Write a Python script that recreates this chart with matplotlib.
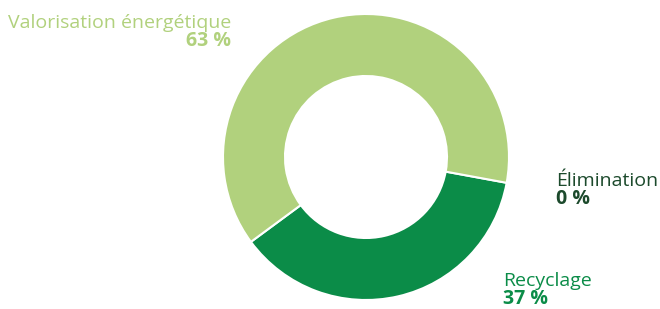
import matplotlib.pyplot as plt

labels = ['Recyclage', 'Valorisation énergétique', 'Élimination']
values = [37, 63, 0]
colors = ['#0b8c48', '#b1d17d', '#1c4a2c']

W, H = 660, 309
fig = plt.figure(figsize=(6.6, 3.09), dpi=100)
ax = fig.add_axes([0, 0, 1, 1])

# donut, only the non-zero slices are drawn
vals = [v for v in values if v > 0]
cols = [c for v, c in zip(values, colors) if v > 0]
ax.pie(vals, colors=cols, startangle=-10.4, counterclock=False,
       center=(366, H - 157), radius=143, frame=True,
       wedgeprops=dict(width=62, edgecolor='white', linewidth=1.5))
ax.set_xlim(0, W)
ax.set_ylim(0, H)
ax.set_aspect('equal')
ax.axis('off')

font = ['Open Sans', 'DejaVu Sans']
# (x, y of label baseline, alignment) in pixels from top-left
pos = {
    'Valorisation énergétique': (231, 28, 'right'),
    'Élimination': (556, 186, 'left'),
    'Recyclage': (503, 286, 'left'),
}
for lab, v, c in zip(labels, values, colors):
    x, y, ha = pos[lab]
    ax.text(x, H - y, lab, ha=ha, va='baseline', fontsize=14, color=c, family=font)
    ax.text(x, H - y - 18, f'{v} %', ha=ha, va='baseline', fontsize=14,
            fontweight='bold', color=c, family=font)

fig.savefig('out.png', dpi=100)
